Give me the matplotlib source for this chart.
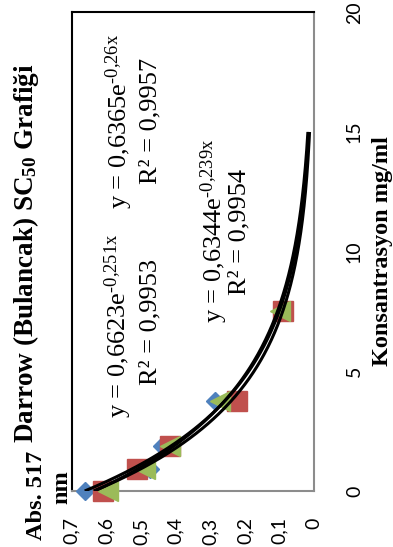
import numpy as np
import matplotlib
matplotlib.use("Agg")
import matplotlib.pyplot as plt

# Concentration series (mg/ml) and absorbance at 517 nm for three replicates
konsantrasyon = [0, 0.9375, 1.875, 3.75, 7.5]
abs_seri1 = [0.662, 0.474, 0.440, 0.286, 0.094]
abs_seri2 = [0.610, 0.512, 0.416, 0.223, 0.090]
abs_seri3 = [0.595, 0.488, 0.416, 0.272, 0.098]

# Exponential trend lines y = a * exp(b * x)
trend_a = [0.6623, 0.6365, 0.6344]
trend_b = [-0.251, -0.26, -0.239]
trend_r2 = ["0,9953", "0,9957", "0,9954"]
trend_a_txt = ["0,6623", "0,6365", "0,6344"]
trend_b_txt = ["0,251", "0,26", "0,239"]
trend_range = (0, 15)

abs_ticks = [0, 0.1, 0.2, 0.3, 0.4, 0.5, 0.6, 0.7]
abs_tick_labels = ["0", "0,1", "0,2", "0,3", "0,4", "0,5", "0,6", "0,7"]
kons_ticks = [0, 5, 10, 15, 20]
kons_tick_labels = ["0", "5", "10", "15", "20"]

W, H = 393, 547
plt.rcParams["mathtext.fontset"] = "custom"
plt.rcParams["mathtext.rm"] = "Liberation Serif"
plt.rcParams["mathtext.it"] = "Liberation Serif:italic"
plt.rcParams["mathtext.bf"] = "Liberation Serif:bold"

SERIF = ["Liberation Serif", "DejaVu Serif"]

fig = plt.figure(figsize=(W / 100, H / 100), dpi=100)
fig.patch.set_facecolor("white")


def fpos(x, y):
    return x / W, 1 - y / H


ax_l, ax_r, ax_t, ax_b = 71.7, 314.0, 12.3, 491.0
ax = fig.add_axes([ax_l / W, 1 - ax_b / H, (ax_r - ax_l) / W, (ax_b - ax_t) / H])

colors = ["#4F81BD", "#C0504D", "#9BBB59"]
ax.plot(abs_seri1, konsantrasyon, linestyle="none", marker="D", ms=9,
        color=colors[0], zorder=3, clip_on=False)
ax.plot(abs_seri2, konsantrasyon, linestyle="none", marker="s", ms=14.5,
        color=colors[1], zorder=4, clip_on=False)
ax.plot(abs_seri3, konsantrasyon, linestyle="none", marker="<", ms=14.5,
        color=colors[2], zorder=5, clip_on=False)

xs = np.linspace(trend_range[0], trend_range[1], 300)
for a, b in zip(trend_a, trend_b):
    ax.plot(a * np.exp(b * xs), xs, color="black", lw=2.2, zorder=6,
            solid_capstyle="butt")

ax.set_xlim(0.7, 0)
ax.set_ylim(0, 20)
ax.set_xticks(abs_ticks, abs_tick_labels)
ax.set_yticks(kons_ticks, kons_tick_labels)
ax.yaxis.tick_right()
ax.tick_params(axis="x", length=0, pad=19, labelrotation=90,
               labelsize=14, labelfontfamily="Lato")
ax.tick_params(axis="y", which="both", length=0, pad=23, labelrotation=90,
               labelsize=14, labelfontfamily="Lato", right=True, left=False,
               labelright=True, labelleft=False)
for t in ax.yaxis.get_major_ticks():
    t.label2.set_verticalalignment("center")
    t.label2.set_horizontalalignment("left")

ax.spines["left"].set_color("black")
ax.spines["top"].set_color("black")
ax.spines["right"].set_color("#8C8C8C")
ax.spines["bottom"].set_color("#8C8C8C")
for s in ax.spines.values():
    s.set_linewidth(1.5)

# Equation labels, one text per line, rotated with the chart
eq_pos = [(126, 156, 326, 322), (127, 156, 121, 121), (222, 245, 231, 232)]
for (bx1, bx2, cy1, cy2), at, bt, r2 in zip(eq_pos, trend_a_txt, trend_b_txt, trend_r2):
    l1 = r"y = " + at + r"e$^{\text{-" + bt + r"x}}$"
    fig.text(*fpos(bx1, cy1), l1, rotation=90, rotation_mode="anchor",
             ha="center", va="baseline", family=SERIF, fontsize=19)
    fig.text(*fpos(bx2, cy2), "R² = " + r2, rotation=90, rotation_mode="anchor",
             ha="center", va="baseline", family=SERIF, fontsize=19)

fig.text(*fpos(33, 253), r"Darrow (Bulancak) SC$_{\mathbf{50}}$ Grafiği",
         rotation=90, rotation_mode="anchor", ha="center", va="baseline",
         family=SERIF, fontsize=19.5, fontweight="bold")
fig.text(*fpos(42, 495), "Abs. 517", rotation=90, rotation_mode="anchor",
         ha="center", va="baseline", family=SERIF, fontsize=17.5,
         fontweight="bold")
fig.text(*fpos(67, 487), "nm", rotation=90, rotation_mode="anchor",
         ha="center", va="baseline", family=SERIF, fontsize=17.5,
         fontweight="bold")
fig.text(*fpos(388, 251), "Konsantrasyon mg/ml", rotation=90,
         rotation_mode="anchor", ha="center", va="baseline", family=SERIF,
         fontsize=17.5, fontweight="bold")

fig.savefig("out.png", dpi=100)
